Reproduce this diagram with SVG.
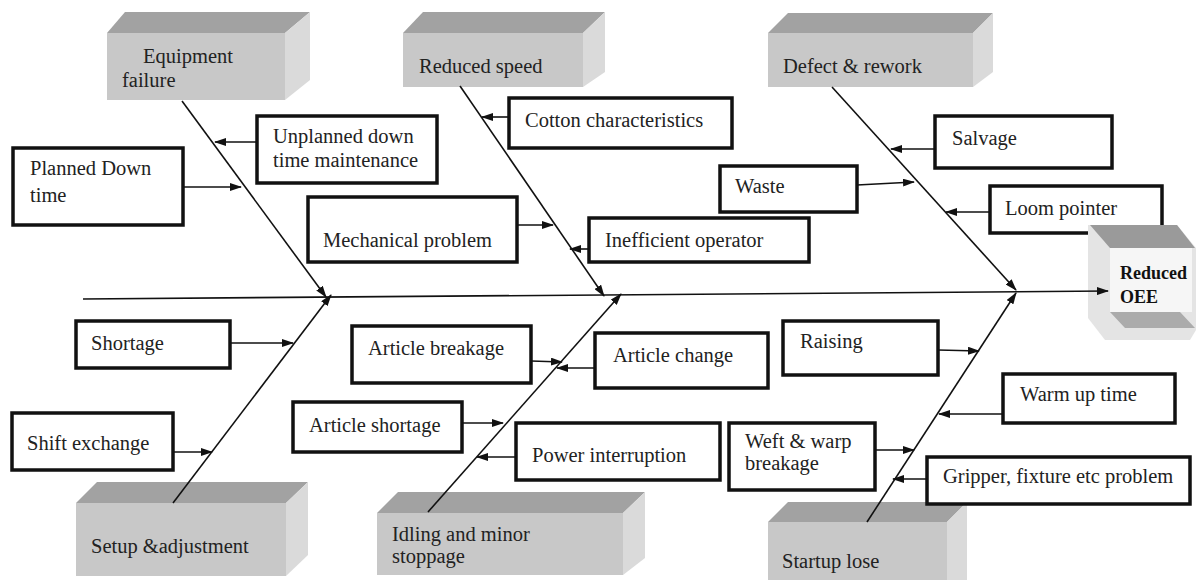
<svg xmlns="http://www.w3.org/2000/svg" width="1200" height="580" viewBox="0 0 1200 580">
<defs>
<marker id="ah" markerWidth="12" markerHeight="8" refX="11" refY="4" orient="auto" markerUnits="userSpaceOnUse">
<path d="M0,0 L12,4 L0,8 Z" fill="#111"/>
</marker>
<style>
text{font-family:"Liberation Serif","Times New Roman",serif;font-size:20.5px;fill:#222}
.b{fill:#fff;stroke:#111;stroke-width:3.5}
.top{fill:#a2a2a2}
.side{fill:#dadada}
.front{fill:#c8c8c8}
.arr{stroke:#111;stroke-width:1.6;fill:none;marker-end:url(#ah)}
.oee{font-weight:bold;font-size:18px;fill:#111}
</style>
</defs>
<rect width="1200" height="580" fill="#fff"/>

<g id="cat-equipment">
<polygon class="top" points="107,33 125,12 310,12 285,33"/>
<polygon class="side" points="285,33 310,12 310,80 285,100"/>
<rect class="front" x="107" y="33" width="178" height="67"/>
<text x="143" y="63">Equipment</text>
<text x="122" y="87">failure</text>
</g>
<g id="cat-speed">
<polygon class="top" points="403,33 423,12 605,12 583,33"/>
<polygon class="side" points="583,33 605,12 605,72 583,87"/>
<rect class="front" x="403" y="33" width="180" height="54"/>
<text x="419" y="73">Reduced speed</text>
</g>
<g id="cat-defect">
<polygon class="top" points="768,33 788,13 993,13 973,33"/>
<polygon class="side" points="973,33 993,13 993,72 973,87"/>
<rect class="front" x="768" y="33" width="205" height="54"/>
<text x="783" y="73">Defect &amp; rework</text>
</g>
<g id="cat-setup">
<polygon class="top" points="76,503 97,482 308,482 286,503"/>
<polygon class="side" points="286,503 308,482 308,555 286,576"/>
<rect class="front" x="76" y="503" width="210" height="73"/>
<text x="91" y="553">Setup &amp;adjustment</text>
</g>
<g id="cat-idling">
<polygon class="top" points="377,513 398,492 645,492 623,513"/>
<polygon class="side" points="623,513 645,492 645,558 623,575"/>
<rect class="front" x="377" y="513" width="246" height="62"/>
<text x="392" y="541">Idling and minor</text>
<text x="392" y="563">stoppage</text>
</g>
<g id="cat-startup">
<polygon class="top" points="768,522 788,502 967,502 947,522"/>
<polygon class="side" points="947,522 967,502 967,580 947,580"/>
<rect class="front" x="768" y="522" width="179" height="58"/>
<text x="782" y="568">Startup lose</text>
</g>

<g id="unplanned">
<rect class="b" x="257" y="116" width="180" height="67"/>
<text x="273" y="143">Unplanned down</text>
<text x="273" y="167">time maintenance</text>
</g>
<g id="planned">
<rect class="b" x="13" y="148" width="170" height="77"/>
<text x="30" y="175">Planned Down</text>
<text x="30" y="202">time</text>
</g>
<g id="mechanical">
<rect class="b" x="308" y="197" width="209" height="65"/>
<text x="323" y="247">Mechanical problem</text>
</g>
<g id="cotton">
<rect class="b" x="509" y="98" width="223" height="50"/>
<text x="525" y="127">Cotton characteristics</text>
</g>
<g id="inefficient">
<rect class="b" x="589" y="218" width="220" height="44"/>
<text x="605" y="247">Inefficient operator</text>
</g>
<g id="waste">
<rect class="b" x="720" y="166" width="137" height="46"/>
<text x="735" y="193">Waste</text>
</g>
<g id="salvage">
<rect class="b" x="935" y="116" width="177" height="52"/>
<text x="952" y="145">Salvage</text>
</g>
<g id="loom">
<rect class="b" x="990" y="186" width="172" height="47"/>
<text x="1005" y="215">Loom pointer</text>
</g>
<g id="shortage">
<rect class="b" x="76" y="321" width="154" height="47"/>
<text x="91" y="350">Shortage</text>
</g>
<g id="shift">
<rect class="b" x="12" y="413" width="161" height="57"/>
<text x="27" y="450">Shift exchange</text>
</g>
<g id="breakage">
<rect class="b" x="352" y="326" width="179" height="57"/>
<text x="368" y="355">Article breakage</text>
</g>
<g id="change">
<rect class="b" x="595" y="333" width="173" height="55"/>
<text x="613" y="362">Article change</text>
</g>
<g id="art-shortage">
<rect class="b" x="293" y="402" width="169" height="50"/>
<text x="309" y="432">Article shortage</text>
</g>
<g id="power">
<rect class="b" x="516" y="423" width="204" height="57"/>
<text x="532" y="462">Power interruption</text>
</g>
<g id="raising">
<rect class="b" x="783" y="321" width="155" height="54"/>
<text x="800" y="348">Raising</text>
</g>
<g id="warmup">
<rect class="b" x="1003" y="374" width="172" height="49"/>
<text x="1020" y="401">Warm up time</text>
</g>
<g id="weft">
<rect class="b" x="729" y="423" width="146" height="67"/>
<text x="745" y="448">Weft &amp; warp</text>
<text x="745" y="470">breakage</text>
</g>
<g id="gripper">
<rect class="b" x="927" y="457" width="263" height="47"/>
<text x="943" y="483">Gripper, fixture etc problem</text>
</g>

<g id="oee">
<polygon fill="#e4e4e4" points="1088,225 1177,225 1196,248 1196,330 1190,340 1105,340 1088,318"/>
<polygon fill="#9a9a9a" points="1090,225 1177,225 1195,248 1110,248"/>
<rect fill="#f6f6f6" x="1110" y="248" width="82" height="64"/>
<polygon fill="#ababab" points="1110,312 1180,312 1195,328 1125,328"/>
<text class="oee" x="1120" y="279">Reduced</text>
<text class="oee" x="1120" y="303">OEE</text>
</g>

<g id="connectors">
<line class="arr" x1="83" y1="299" x2="1108" y2="291"/>
<line class="arr" x1="182" y1="101" x2="326" y2="297"/>
<line class="arr" x1="460" y1="86" x2="604" y2="296"/>
<line class="arr" x1="832" y1="87" x2="1016" y2="290"/>
<line class="arr" x1="173" y1="503" x2="331" y2="295"/>
<line class="arr" x1="428" y1="512" x2="621" y2="294"/>
<line class="arr" x1="867" y1="522" x2="1016" y2="293"/>
<line class="arr" x1="257" y1="142" x2="215" y2="142"/>
<line class="arr" x1="183" y1="187" x2="241" y2="187"/>
<line class="arr" x1="517" y1="225" x2="553" y2="225"/>
<line class="arr" x1="509" y1="117" x2="482" y2="117"/>
<line class="arr" x1="589" y1="249" x2="570" y2="249"/>
<line class="arr" x1="857" y1="185" x2="914" y2="182"/>
<line class="arr" x1="935" y1="149" x2="891" y2="149"/>
<line class="arr" x1="990" y1="212" x2="946" y2="212"/>
<line class="arr" x1="230" y1="343" x2="293" y2="343"/>
<line class="arr" x1="173" y1="452" x2="212" y2="452"/>
<line class="arr" x1="531" y1="361" x2="562" y2="362"/>
<line class="arr" x1="595" y1="368" x2="557" y2="368"/>
<line class="arr" x1="462" y1="423" x2="503" y2="423"/>
<line class="arr" x1="516" y1="457" x2="477" y2="457"/>
<line class="arr" x1="938" y1="350" x2="979" y2="351"/>
<line class="arr" x1="1003" y1="414" x2="939" y2="414"/>
<line class="arr" x1="875" y1="450" x2="914" y2="450"/>
<line class="arr" x1="927" y1="479" x2="893" y2="479"/>
</g>
</svg>
